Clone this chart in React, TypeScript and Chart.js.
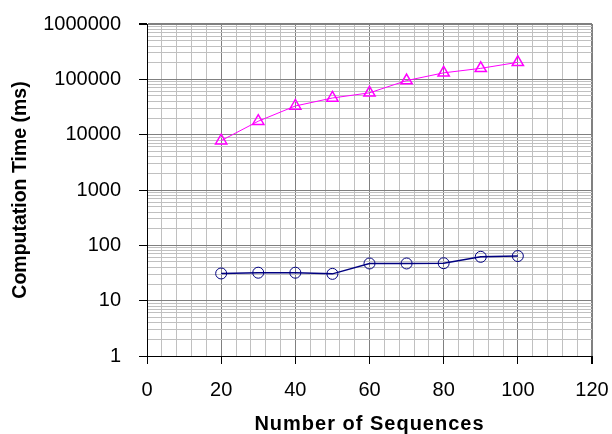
import React, { useEffect, useRef } from "react";
import { Chart, registerables } from "chart.js";

Chart.register(...registerables);

const sequences = [20, 30, 40, 50, 60, 70, 80, 90, 100];
const upperTimes = [7800, 17500, 33000, 46000, 57000, 95000, 131000, 158000, 203000];
const lowerTimes = [31, 32, 32, 30.5, 47, 47, 47.5, 62, 64];

const yDecades = [1, 10, 100, 1000, 10000, 100000, 1000000];
const xLabelValues = [0, 20, 40, 60, 80, 100, 120];
const xMinorStep = 4;

const FONT = "'Liberation Sans', Arial, sans-serif";
const MAJOR = "#808080";
const MINOR = "#c0c0c0";

function zeroPadding(scale: any) {
  scale.paddingLeft = 0;
  scale.paddingRight = 0;
  scale.paddingTop = 0;
  scale.paddingBottom = 0;
}

export default function App() {
  const ref = useRef<HTMLCanvasElement | null>(null);

  useEffect(() => {
    document.body.style.margin = "0";
    const canvas = ref.current;
    if (!canvas) return;

    const yTickVals: number[] = [];
    for (let i = 0; i < yDecades.length - 1; i++) {
      for (let k = 1; k <= 9; k++) yTickVals.push(yDecades[i] * k);
    }
    yTickVals.push(yDecades[yDecades.length - 1]);
    const xMax = xLabelValues[xLabelValues.length - 1];
    const xTickVals: number[] = [];
    for (let v = xLabelValues[0]; v <= xMax; v += xMinorStep) xTickVals.push(v);

    const isDecade = (v: number) => yDecades.includes(v);
    const isXMajor = (v: number) => xLabelValues.includes(v);

    const chart = new Chart(canvas, {
      type: "scatter",
      data: {
        datasets: [
          {
            label: "upper",
            data: sequences.map((x, i) => ({ x, y: upperTimes[i] })),
            showLine: true,
            borderColor: "#ff00ff",
            borderWidth: 1,
            pointStyle: "triangle",
            pointRadius: 6.5,
            pointBorderColor: "#ff00ff",
            pointBackgroundColor: "rgba(0,0,0,0)",
            pointBorderWidth: 1.5,
          },
          {
            label: "lower",
            data: sequences.map((x, i) => ({ x, y: lowerTimes[i] })),
            showLine: true,
            borderColor: "#000080",
            borderWidth: 1.5,
            pointStyle: "circle",
            pointRadius: 5.5,
            pointBorderColor: "#000080",
            pointBackgroundColor: "rgba(0,0,0,0)",
            pointBorderWidth: 1,
          },
        ],
      },
      options: {
        responsive: false,
        animation: false,
        layout: { padding: { left: 0, right: 20, top: 24, bottom: 0 } },
        plugins: { legend: { display: false }, tooltip: { enabled: false } },
        scales: {
          x: {
            type: "linear",
            min: 0,
            max: xMax,
            afterBuildTicks: (scale: any) => {
              scale.ticks = xTickVals.map((value) => ({ value }));
            },
            afterFit: (scale: any) => {
              scale.height = 78;
              zeroPadding(scale);
              if (!scale._spacedTitle) {
                const orig = scale.drawTitle;
                scale.drawTitle = function (...args: any[]) {
                  const ctx = this.ctx;
                  ctx.save();
                  try {
                    (ctx as any).letterSpacing = "1px";
                  } catch (e) {}
                  orig.apply(this, args);
                  ctx.restore();
                };
                scale._spacedTitle = true;
              }
            },
            ticks: {
              autoSkip: false,
              maxRotation: 0,
              padding: 14,
              color: "#000",
              font: { family: FONT, size: 20 },
              callback: (v: any) => (isXMajor(Number(v)) ? String(v) : ""),
            },
            grid: {
              color: (c: any) => (isXMajor(c.tick?.value) ? MAJOR : MINOR),
              lineWidth: (c: any) => (c.tick?.value === xMax ? 2 : 1),
              tickColor: (c: any) => (isXMajor(c.tick?.value) ? "#000" : "rgba(0,0,0,0)"),
              tickLength: 8,
            },
            border: { display: true, color: "#000", width: 1 },
            title: {
              display: true,
              text: "Number of Sequences",
              color: "#000",
              font: { family: FONT, size: 20, weight: "bold", lineHeight: 1 },
              padding: { top: 0, bottom: 0 },
            },
          },
          y: {
            type: "logarithmic",
            min: 1,
            max: 1000000,
            afterBuildTicks: (scale: any) => {
              scale.ticks = yTickVals.map((value) => ({ value }));
            },
            afterFit: (scale: any) => {
              scale.width = 147;
              zeroPadding(scale);
            },
            ticks: {
              autoSkip: false,
              padding: 18,
              color: "#000",
              font: { family: FONT, size: 20 },
              callback: (v: any) => (isDecade(Number(v)) ? String(v) : ""),
            },
            grid: {
              color: (c: any) => (isDecade(c.tick?.value) ? MAJOR : MINOR),
              lineWidth: (c: any) => (c.tick?.value === 1000000 ? 2 : 1),
              tickColor: (c: any) => (isDecade(c.tick?.value) ? "#000" : "rgba(0,0,0,0)"),
              tickLength: 8,
            },
            border: { display: true, color: "#000", width: 1 },
            title: {
              display: true,
              text: "Computation Time (ms)",
              color: "#000",
              font: { family: FONT, size: 19.5, weight: "bold", lineHeight: 1 },
              padding: { top: 11, bottom: 0 },
            },
          },
        },
      },
    });

    return () => chart.destroy();
  }, []);

  return (
    <div style={{ width: 612, height: 434 }}>
      <canvas ref={ref} width={612} height={434} />
    </div>
  );
}
